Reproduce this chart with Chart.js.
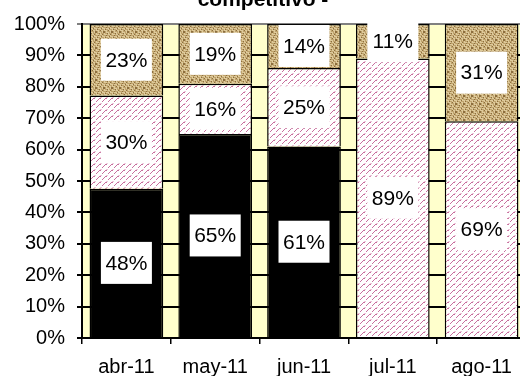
<!DOCTYPE html>
<html lang="es">
<head>
    <meta charset="UTF-8">
    <title>competitivo</title>
    <script src="https://cdn.jsdelivr.net/npm/chart.js"></script>
    <style>
        body { margin: 0; background: #fff; overflow: hidden; }
        #wrap { width: 520px; height: 376px; overflow: hidden; position: relative; }
    </style>
</head>
<body>
    <div id="wrap">
        <canvas id="shareChart" width="528" height="376"></canvas>
    </div>
    <script>
        // Data (percent labels as printed)
        const categories = ['abr-11', 'may-11', 'jun-11', 'jul-11', 'ago-11'];
        const blackShare = [48, 65, 61, 0, 0];
        const hatchShare = [30, 16, 25, 89, 69];
        const brownShare = [23, 19, 14, 11, 31];
        const yTickValues = [0, 10, 20, 30, 40, 50, 60, 70, 80, 90, 100];
        const titleText = 'competitivo -';

        const shares = [blackShare, hatchShare, brownShare];
        const FONT = '"Liberation Sans", Arial, sans-serif';

        // 100% stacked: normalise each month by its total
        const totals = categories.map((c, i) => shares.reduce((s, arr) => s + arr[i], 0));
        function normalise(arr) {
            return arr.map((v, i) => v ? v / totals[i] * 100 : null);
        }

        // pink diagonal hatch on white
        function hatchPattern(ctx) {
            const c = document.createElement('canvas');
            c.width = 6; c.height = 6;
            const g = c.getContext('2d');
            g.fillStyle = '#fff';
            g.fillRect(0, 0, 6, 6);
            g.fillStyle = 'rgb(200,112,158)';
            [[0,5],[1,4],[2,3],[3,2],[4,2]].forEach(p => g.fillRect(p[0], p[1], 1, 1));
            g.fillStyle = 'rgb(236,196,216)';
            [[5,1],[4,1]].forEach(p => g.fillRect(p[0], p[1], 1, 1));
            return ctx.createPattern(c, 'repeat');
        }

        // tan woven texture
        function burlapPattern(ctx) {
            const c = document.createElement('canvas');
            c.width = 8; c.height = 8;
            const g = c.getContext('2d');
            const light = 'rgb(222,202,155)', mid = 'rgb(190,162,108)', dark = 'rgb(140,110,62)';
            for (let x = 0; x < 8; x++) {
                for (let y = 0; y < 8; y++) {
                    const a = ((x >> 1) + (y >> 1)) & 1;
                    let col = a ? ((y & 1) ? mid : light) : ((x & 1) ? mid : light);
                    if ((x * 3 + y * 5) % 7 === 0) col = dark;
                    g.fillStyle = col;
                    g.fillRect(x, y, 1, 1);
                }
            }
            return ctx.createPattern(c, 'repeat');
        }

        const canvas = document.getElementById('shareChart');
        const ctx = canvas.getContext('2d');

        const plotBackground = {
            id: 'plotBackground',
            beforeDraw(chart) {
                const a = chart.chartArea;
                const c = chart.ctx;
                c.save();
                c.fillStyle = '#ffffcc';
                c.fillRect(a.left, a.top, a.right - a.left, a.bottom - a.top);
                c.restore();
            }
        };

        const clippedTitle = {
            id: 'clippedTitle',
            afterDraw(chart) {
                const c = chart.ctx;
                c.save();
                c.font = 'bold 21px ' + FONT;
                c.fillStyle = '#000';
                c.textAlign = 'center';
                c.textBaseline = 'alphabetic';
                c.fillText(titleText, 263, 6);
                c.restore();
            }
        };

        const boxLabels = {
            id: 'boxLabels',
            afterDatasetsDraw(chart) {
                const c = chart.ctx;
                c.save();
                c.font = '21px ' + FONT;
                c.textAlign = 'center';
                c.textBaseline = 'middle';
                shares.forEach((arr, i) => {
                    const meta = chart.getDatasetMeta(i);
                    meta.data.forEach((bar, j) => {
                        if (!arr[j]) return;
                        const cy = (bar.y + bar.base) / 2;
                        c.fillStyle = '#fff';
                        c.fillRect(bar.x - 25.5, cy - 21, 51, 42);
                        c.fillStyle = '#000';
                        c.fillText(arr[j] + '%', bar.x, cy + 1);
                    });
                });
                c.restore();
            }
        };

        const shareChart = new Chart(ctx, {
            type: 'bar',
            data: {
                labels: categories,
                datasets: [{
                    label: 'serie 1',
                    data: normalise(blackShare),
                    backgroundColor: '#000',
                    borderColor: '#000',
                    borderWidth: 1.5
                }, {
                    label: 'serie 2',
                    data: normalise(hatchShare),
                    backgroundColor: hatchPattern(ctx),
                    borderColor: '#000',
                    borderWidth: 1.5
                }, {
                    label: 'serie 3',
                    data: normalise(brownShare),
                    backgroundColor: burlapPattern(ctx),
                    borderColor: '#000',
                    borderWidth: 1.5
                }]
            },
            options: {
                responsive: false,
                animation: false,
                layout: { padding: { top: 20, right: 2, left: 0, bottom: 0 } },
                datasets: { bar: { categoryPercentage: 0.83, barPercentage: 1 } },
                plugins: {
                    legend: { display: false },
                    title: { display: false },
                    tooltip: { enabled: false }
                },
                scales: {
                    x: {
                        stacked: true,
                        grid: { offset: true, drawOnChartArea: false, drawTicks: true, tickLength: 6, color: '#000', lineWidth: 1.5 },
                        border: { color: '#000', width: 2 },
                        ticks: { color: '#000', font: { size: 20, family: FONT }, padding: 11, maxRotation: 0 },
                        afterFit(scale) { scale.height = 38; }
                    },
                    y: {
                        stacked: true,
                        min: 0,
                        max: 100,
                        afterBuildTicks(scale) { scale.ticks = yTickValues.map(v => ({ value: v })); },
                        grid: {
                            color: c => c.tick && c.tick.value === 100 ? '#808080' : '#000',
                            lineWidth: 2,
                            tickLength: 5
                        },
                        border: { color: '#000', width: 2 },
                        ticks: {
                            color: '#000',
                            font: { size: 20, family: FONT },
                            padding: 12,
                            callback: v => v + '%'
                        },
                        afterFit(scale) { scale.width = 82; }
                    }
                }
            },
            plugins: [plotBackground, boxLabels, clippedTitle]
        });
    </script>
</body>
</html>
